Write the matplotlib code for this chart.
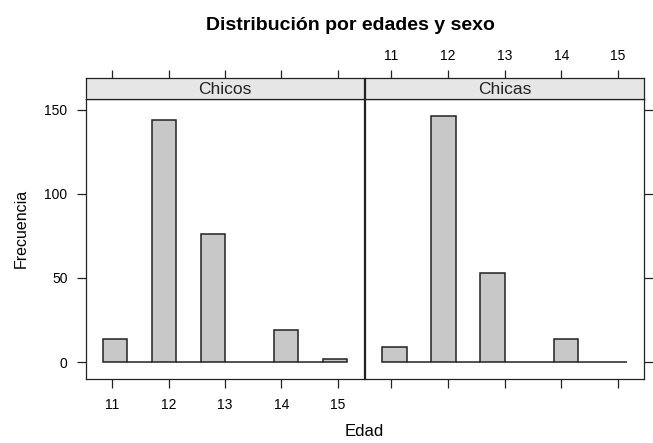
import numpy as np
import matplotlib
matplotlib.use("Agg")
import matplotlib.pyplot as plt

plt.rcParams['font.family'] = ['Liberation Sans', 'DejaVu Sans']

# datos
edades = [11, 12, 13, 14, 15]
paneles = ["Chicos", "Chicas"]
frec_chicos = [14, 144, 76, 19, 2]
frec_chicas = [9, 146, 53, 14, 0]
yticks = [0, 50, 100, 150]

# cortes tipo lattice: rango extendido 4% y 10 intervalos (cerrados a la derecha)
lo, hi = min(edades), max(edades)
ext = 0.04 * (hi - lo)
cortes = np.linspace(lo - ext, hi + ext, 11)
anchos = np.diff(cortes)
xpad = 0.07 * (cortes[-1] - cortes[0])
xlim = (cortes[0] - xpad, cortes[-1] + xpad)
ymax = max(frec_chicos + frec_chicas)
ylim = (-0.07 * ymax, 1.07 * ymax)


def contar(frec):
    idx = np.digitize(edades, cortes, right=True) - 1
    alt = np.zeros(len(cortes) - 1)
    for k, f in zip(idx, frec):
        alt[k] += f
    return alt


W, H = 653, 443
fig = plt.figure(figsize=(W / 100, H / 100), dpi=100)


def box(x0, y0, x1, y1):
    # pixel coords (top-left origin) -> figure fraction
    return [x0 / W, 1 - y1 / H, (x1 - x0) / W, (y1 - y0) / H]


panel_px = [(86, 364), (365.3, 644)]
edge = '#222222'
tick_len = 6.3

for i, (nombre, frec) in enumerate(zip(paneles, [frec_chicos, frec_chicas])):
    x0, x1 = panel_px[i]
    ax = fig.add_axes(box(x0, 99.3, x1, 379.3))
    ax.bar(cortes[:-1], contar(frec), width=anchos, align='edge',
           color='#c8c8c8', edgecolor=edge, linewidth=1.1)
    ax.set_xlim(*xlim)
    ax.set_ylim(*ylim)
    ax.set_xticks(edades)
    ax.set_yticks(yticks)
    for s in ax.spines.values():
        s.set_color(edge)
        s.set_linewidth(0.9)
    ax.tick_params(direction='out', length=tick_len, width=0.9, color=edge,
                   labelsize=10, pad=7)
    if i == 0:
        ax.tick_params(axis='y', left=True, right=False, labelleft=True)
        ax.tick_params(axis='x', bottom=True, labelbottom=True)
    else:
        ax.tick_params(axis='y', left=False, labelleft=False, right=True,
                       labelright=False)
        ax.tick_params(axis='x', bottom=True, labelbottom=False)

    # tira superior
    st = fig.add_axes(box(x0, 78.3, x1, 99.3))
    st.set_facecolor('#e6e6e6')
    st.set_xlim(*xlim)
    st.set_ylim(0, 1)
    st.set_yticks([])
    st.set_xticks(edades)
    st.xaxis.set_ticks_position('top')
    st.tick_params(direction='out', length=5.5, width=0.9, color=edge,
                   labelsize=10, pad=5.5, labeltop=(i == 1), labelbottom=False,
                   bottom=False)
    for s in st.spines.values():
        s.set_color(edge)
        s.set_linewidth(0.9)
    st.text(0.5, 0.45, nombre, transform=st.transAxes, ha='center',
            va='center', fontsize=12.5, color='#222222')

fig.text(350 / W, 1 - 26 / H, 'Distribución por edades y sexo', ha='center',
         va='center', fontsize=14, fontweight='bold')
fig.text(364 / W, 1 - 432 / H, 'Edad', ha='center', va='center', fontsize=12)
fig.text(21 / W, 1 - 228 / H, 'Frecuencia', ha='center', va='center',
         fontsize=11.5, rotation=90)

fig.savefig('out.png', dpi=100)
